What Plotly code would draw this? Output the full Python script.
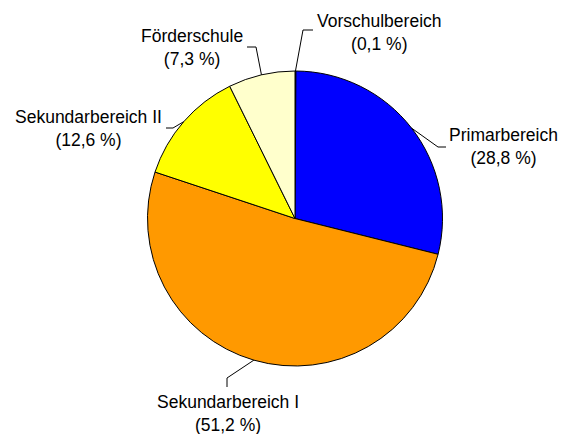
import math
import plotly.graph_objects as go

categories = ["Vorschulbereich", "Primarbereich", "Sekundarbereich I", "Sekundarbereich II", "Förderschule"]
values = [0.1, 28.8, 51.2, 12.6, 7.3]
pct_labels = ["(0,1 %)", "(28,8 %)", "(51,2 %)", "(12,6 %)", "(7,3 %)"]
colors = ["#333366", "#0000FF", "#FF9900", "#FFFF00", "#FFFFCC"]

W, H = 561, 434
CX, CY, R = 295, 218.5, 147.5

def px(x):
    return x / W

def py(y):
    return 1 - y / H

fig = go.Figure(go.Pie(
    labels=categories, values=values, sort=False, direction="clockwise", rotation=0,
    marker=dict(colors=colors, line=dict(color="#000000", width=1)),
    textinfo="none", hoverinfo="label+percent", showlegend=False,
    domain=dict(x=[px(CX - R), px(CX + R)], y=[py(CY + R), py(CY - R)]),
))

# label layout: (elbow point, end point, text center)
label_layout = [
    ((303, 30), (313, 30), (379, 32)),
    ((438, 147), (446, 147), (503, 146)),
    ((227, 378), (227, 387), (227.5, 413)),
    ((173, 128), (166, 128), (89, 128)),
    ((256, 47), (247, 47), (192, 47)),
]

total = sum(values)
cum = 0
shapes = []
annotations = []
for i, v in enumerate(values):
    mid = (cum + v / 2) / total
    cum += v
    ang = 2 * math.pi * mid
    ax = CX + R * math.sin(ang)
    ay = CY - R * math.cos(ang)
    (ex, ey), (tx, ty), (lx, ly) = label_layout[i]
    path = f"M {px(ax)},{py(ay)} L {px(ex)},{py(ey)} L {px(tx)},{py(ty)}"
    shapes.append(dict(type="path", xref="paper", yref="paper", path=path,
                       line=dict(color="#000000", width=1)))
    annotations.append(dict(
        x=px(lx), y=py(ly), xref="paper", yref="paper",
        text=f"{categories[i]}<br>{pct_labels[i]}", showarrow=False,
        xanchor="center", yanchor="middle", align="center",
        font=dict(family="Arial, Liberation Sans, sans-serif", size=17.5, color="#000000"),
    ))

fig.update_layout(
    width=W, height=H, margin=dict(l=0, r=0, t=0, b=0),
    paper_bgcolor="white", plot_bgcolor="white",
    shapes=shapes, annotations=annotations,
)

fig.write_html("out.html", config={"displayModeBar": False},
               post_script="document.body.style.margin='0';document.body.style.overflow='hidden';")
